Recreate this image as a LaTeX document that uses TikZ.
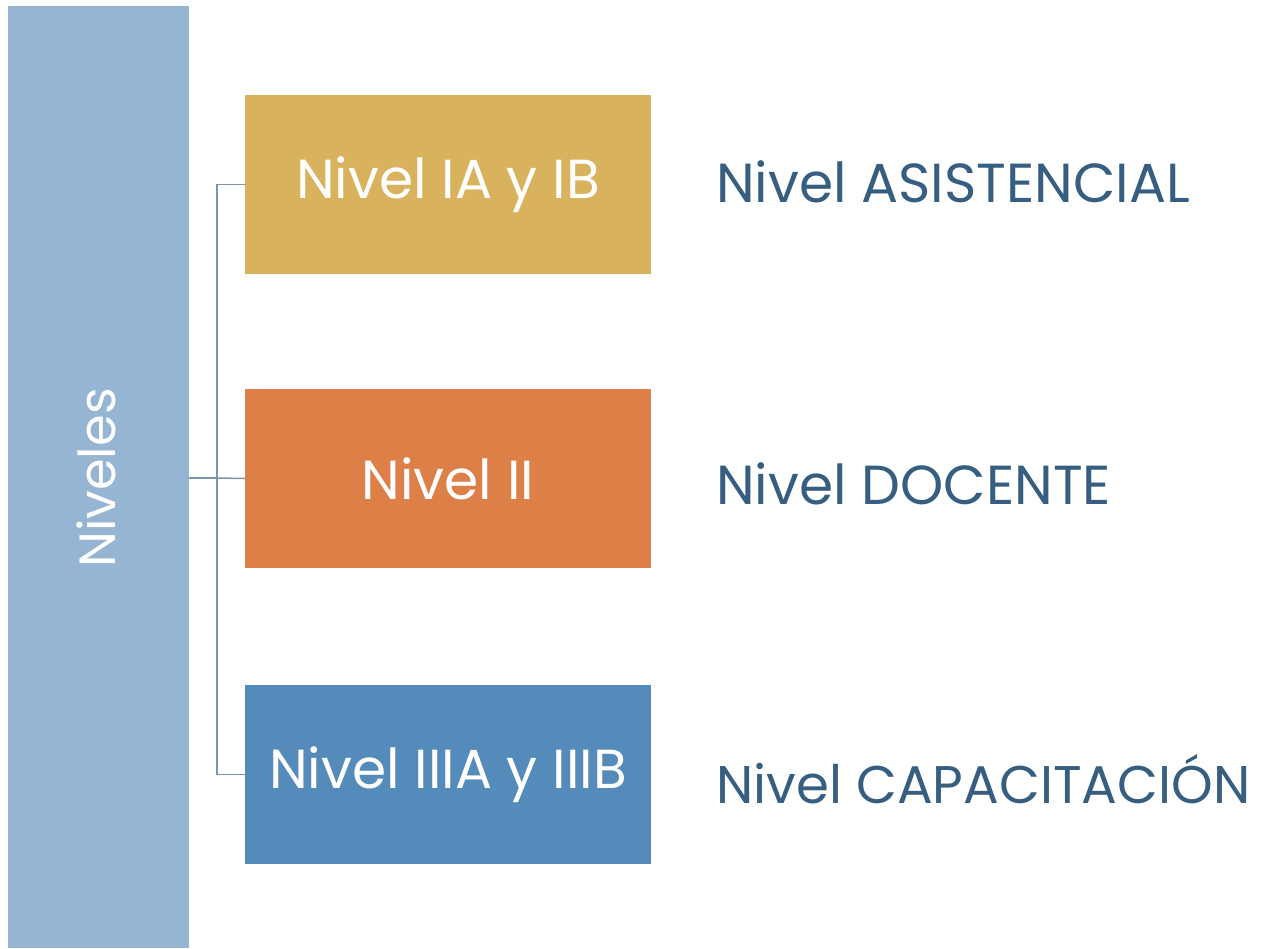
\documentclass[tikz,border=0pt]{standalone}
\usepackage{fontspec}
\setmainfont{Poppins}
\definecolor{barblue}{HTML}{95B5D3}
\definecolor{gold}{HTML}{D8B25D}
\definecolor{orange}{HTML}{DC8048}
\definecolor{steel}{HTML}{558BBA}
\definecolor{conn}{HTML}{7B95AE}
\definecolor{dark}{HTML}{365E81}
\tikzset{
  lvlbox/.style={minimum width=406pt, minimum height=179pt, inner sep=0pt, text=white, font=\fontsize{55}{66}\selectfont},
  sidetext/.style={anchor=west, inner sep=0pt, text=dark, font=\fontsize{55}{66}\selectfont},
  connline/.style={draw=conn, line width=1.5pt}
}
\begin{document}
\begin{tikzpicture}[x=1pt,y=-1pt]
\useasboundingbox (0,0) rectangle (1266,949);
\node[fill=barblue, minimum width=181pt, minimum height=941pt, inner sep=0pt] (bar) at (98.5,477) {};
\node[rotate=90, text=white, font=\fontsize{51}{60}\selectfont] (barlabel) at (96,478) {Niveles};
\node[lvlbox, fill=gold] (b1) at (448,184.5) {Nivel IA y IB};
\node[lvlbox, fill=orange] (b2) at (448,478.5) {Nivel II};
\node[lvlbox, fill=steel] (b3) at (448,774.5) {Nivel IIIA y IIIB};
\coordinate (j) at (217,478);
\draw[connline] (bar.east |- j) -- (j);
\draw[connline] (j) -- (j |- b1.west) -- (b1.west);
\draw[connline] (j) -- (b2.west);
\draw[connline] (j) -- (j |- b3.west) -- (b3.west);
\node[sidetext] (t1) at (716,182) {Nivel ASISTENCIAL};
\node[sidetext] (t2) at (716,484) {Nivel DOCENTE};
\node[sidetext, font=\fontsize{53}{64}\selectfont] (t3) at (716,779) {Nivel CAPACITACIÓN};
\end{tikzpicture}
\end{document}
